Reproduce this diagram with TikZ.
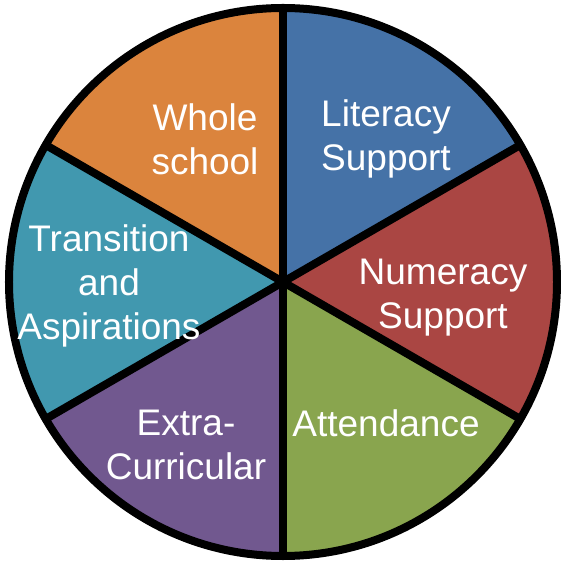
\documentclass[tikz,border=0pt]{standalone}
\usepackage{fontspec}
\setmainfont{Liberation Sans}

\definecolor{litblue}{HTML}{4572A7}
\definecolor{numred}{HTML}{AA4643}
\definecolor{attgreen}{HTML}{89A54E}
\definecolor{extpurple}{HTML}{71588F}
\definecolor{tratea}{HTML}{4198AF}
\definecolor{wholeorange}{HTML}{DB843D}

\tikzset{
    seglabel/.style={text=white, align=center, inner sep=0pt,
        font=\fontsize{37}{44}\selectfont},
    rim/.style={line width=8pt}
}

\begin{document}
\begin{tikzpicture}[x=1pt, y=1pt]
    \useasboundingbox (-283,-279) rectangle (277,282);
    \coordinate (O) at (0,0);

    % sectors, clockwise from the top
    \foreach \s/\c in {90/litblue, 30/numred, -30/attgreen, -90/extpurple, -150/tratea, -210/wholeorange}
        \fill[\c] (O) -- (\s:274pt) arc[start angle=\s, delta angle=-60, radius=274pt] -- cycle;

    \foreach \a in {90,30,...,-210}
        \draw[rim] (O) -- (\a:274pt);
    \draw[rim] (O) circle[radius=274pt];

    \node[seglabel] (literacy) at (103,143) {Literacy\\Support};
    \node[seglabel] (numeracy) at (160,-16) {Numeracy\\Support};
    \node[seglabel] (attendance) at (103,-141) {Attendance};
    \node[seglabel] (extra) at (-97,-163) {Extra-\\Curricular};
    \node[seglabel] (transition) at (-174,-4) {Transition\\and\\Aspirations};
    \node[seglabel] (whole) at (-78,143) {Whole\\school};
\end{tikzpicture}
\end{document}
